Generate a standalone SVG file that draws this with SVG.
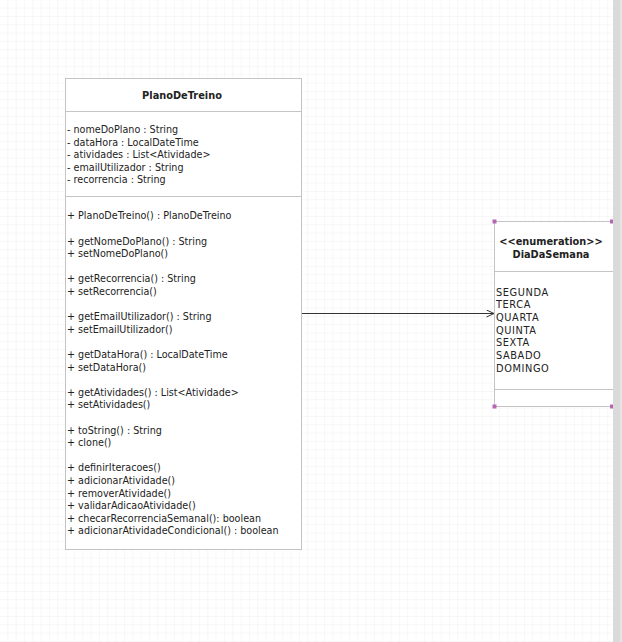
<svg xmlns="http://www.w3.org/2000/svg" width="622" height="642" viewBox="0 0 622 642">
<defs>
<pattern id="grid" x="7.3" y="7.6" width="8.333" height="8.333" patternUnits="userSpaceOnUse">
<path d="M0 0H8.333M0 0V8.333" fill="none" stroke="#f0f0f0" stroke-width="1"/>
</pattern>
<marker id="open" markerWidth="10" markerHeight="10" refX="8" refY="4" orient="auto" markerUnits="userSpaceOnUse">
<path d="M0.5 0.5L8 4L0.5 7.5" fill="none" stroke="#333" stroke-width="1"/>
</marker>
</defs>
<style>
.box{fill:#fff;stroke:#c4c4c4;stroke-width:1}
.sep{stroke:#c4c4c4;stroke-width:1}
.t{font-family:"DejaVu Sans",sans-serif;font-size:9.6px;fill:#222}
.b{font-family:"DejaVu Sans",sans-serif;font-size:9.8px;font-weight:bold;fill:#222;text-anchor:middle}
.e{font-family:"DejaVu Sans",sans-serif;font-size:9.8px;fill:#222;letter-spacing:0.6px}
.h{fill:#b566b5}
</style>
<rect width="622" height="642" fill="#fff"/>
<rect width="622" height="642" fill="url(#grid)"/>
<g id="connectors">
<line x1="301" y1="313.5" x2="494" y2="313.5" stroke="#333" stroke-width="1" marker-end="url(#open)"/>
</g>
<g id="PlanoDeTreino">
<rect class="box" x="65.5" y="78.5" width="236" height="471"/>
<line class="sep" x1="65.5" y1="111.5" x2="301.5" y2="111.5"/>
<line class="sep" x1="65.5" y1="196.5" x2="301.5" y2="196.5"/>
<text class="b" x="182" y="98.5">PlanoDeTreino</text>
<text class="t" x="67" y="133">- nomeDoPlano : String</text>
<text class="t" x="67" y="145.6">- dataHora : LocalDateTime</text>
<text class="t" x="67" y="158.2">- atividades : List&lt;Atividade&gt;</text>
<text class="t" x="67" y="170.8">- emailUtilizador : String</text>
<text class="t" x="67" y="183.4">- recorrencia : String</text>
<text class="t" x="67" y="219.3">+ PlanoDeTreino() : PlanoDeTreino</text>
<text class="t" x="67" y="244.5">+ getNomeDoPlano() : String</text>
<text class="t" x="67" y="257.1">+ setNomeDoPlano()</text>
<text class="t" x="67" y="282.3">+ getRecorrencia() : String</text>
<text class="t" x="67" y="294.9">+ setRecorrencia()</text>
<text class="t" x="67" y="320.1">+ getEmailUtilizador() : String</text>
<text class="t" x="67" y="332.7">+ setEmailUtilizador()</text>
<text class="t" x="67" y="357.9">+ getDataHora() : LocalDateTime</text>
<text class="t" x="67" y="370.5">+ setDataHora()</text>
<text class="t" x="67" y="395.7">+ getAtividades() : List&lt;Atividade&gt;</text>
<text class="t" x="67" y="408.3">+ setAtividades()</text>
<text class="t" x="67" y="433.5">+ toString() : String</text>
<text class="t" x="67" y="446.1">+ clone()</text>
<text class="t" x="67" y="471.3">+ definirIteracoes()</text>
<text class="t" x="67" y="483.9">+ adicionarAtividade()</text>
<text class="t" x="67" y="496.5">+ removerAtividade()</text>
<text class="t" x="67" y="509.1">+ validarAdicaoAtividade()</text>
<text class="t" x="67" y="521.7">+ checarRecorrenciaSemanal(): boolean</text>
<text class="t" x="67" y="534.3">+ adicionarAtividadeCondicional() : boolean</text>
</g>
<g id="DiaDaSemana">
<rect class="box" x="494.5" y="221.5" width="130" height="185"/>
<line class="sep" x1="494.5" y1="271.5" x2="624" y2="271.5"/>
<line class="sep" x1="494.5" y1="389.5" x2="624" y2="389.5"/>
<text class="b" x="551" y="245.2">&lt;&lt;enumeration&gt;&gt;</text>
<text class="b" x="551" y="257.8">DiaDaSemana</text>
<text class="e" x="496" y="295.6">SEGUNDA</text>
<text class="e" x="496" y="308.3">TERCA</text>
<text class="e" x="496" y="321">QUARTA</text>
<text class="e" x="496" y="333.7">QUINTA</text>
<text class="e" x="496" y="346.4">SEXTA</text>
<text class="e" x="496" y="359.1">SABADO</text>
<text class="e" x="496" y="371.8">DOMINGO</text>
<rect class="h" x="492.5" y="219.5" width="4" height="4"/>
<rect class="h" x="610" y="219.5" width="4" height="4"/>
<rect class="h" x="492.5" y="404.5" width="4" height="4"/>
<rect class="h" x="610" y="404.5" width="4" height="4"/>
</g>
<rect x="613" y="0" width="9" height="642" fill="#dadada"/>
<rect x="620" y="0" width="2" height="642" fill="#e6e6e6"/>
</svg>
